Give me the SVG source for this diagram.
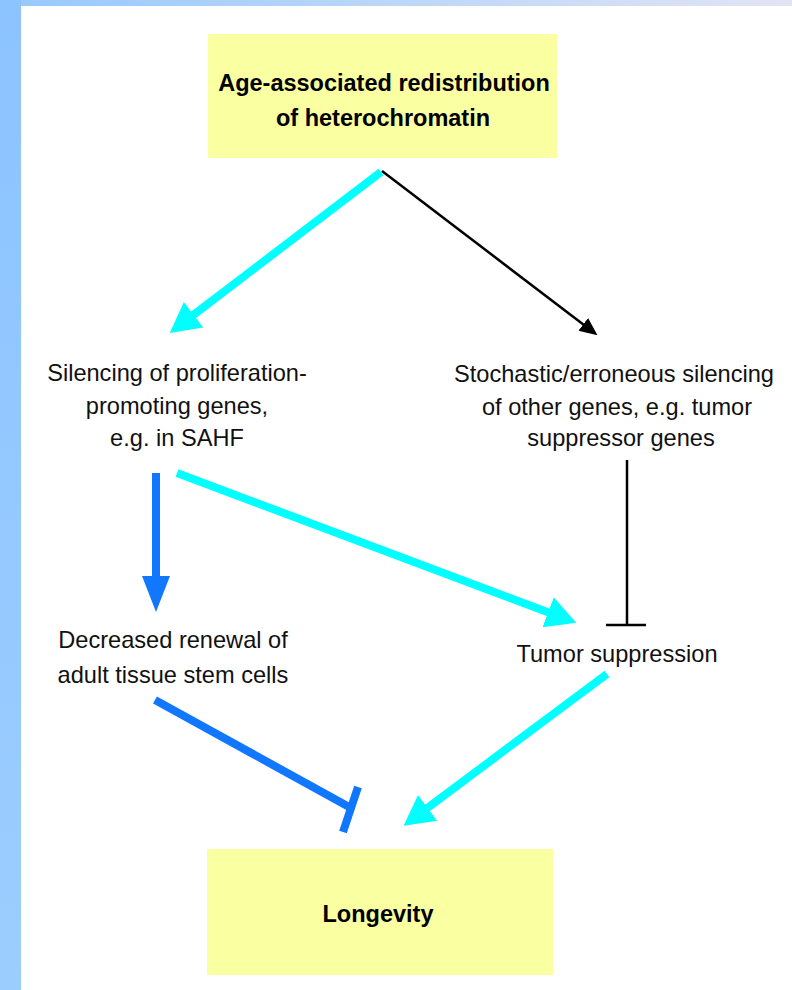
<svg xmlns="http://www.w3.org/2000/svg" width="792" height="990" viewBox="0 0 792 990">
  <defs>
    <linearGradient id="gLeft" x1="0" y1="0" x2="0" y2="1">
      <stop offset="0" stop-color="#8CC4FF"/>
      <stop offset="1" stop-color="#9CCDFF"/>
    </linearGradient>
    <linearGradient id="gTop" x1="0" y1="0" x2="1" y2="0">
      <stop offset="0" stop-color="#98CAFC"/>
      <stop offset="1" stop-color="#E2E4F4"/>
    </linearGradient>
    <marker id="headCyan" markerUnits="userSpaceOnUse" markerWidth="30" markerHeight="34" viewBox="0 0 30 34" refX="2" refY="17" orient="auto">
      <path d="M0,1 L30,17 L0,33 z" fill="#00FFFF"/>
    </marker>
    <marker id="headBlue" markerUnits="userSpaceOnUse" markerWidth="36" markerHeight="30" viewBox="0 0 36 30" refX="1" refY="15" orient="auto">
      <path d="M0,1 L36,15 L0,29 z" fill="#1177FF"/>
    </marker>
    <marker id="headBlack" markerUnits="userSpaceOnUse" markerWidth="18" markerHeight="18" viewBox="0 0 18 18" refX="1" refY="9" orient="auto">
      <path d="M0,1 L18,9 L0,17 z" fill="#000"/>
    </marker>
  </defs>
  <style>
    .box { fill: #FAFFA2; }
    .t { font-family: "Liberation Sans", Arial, sans-serif; font-size: 23.6px; fill: #111; text-anchor: middle; }
    .b { font-family: "Liberation Sans", Arial, sans-serif; font-size: 23.5px; font-weight: bold; fill: #000; text-anchor: middle; }
    .cyan { stroke: #00FFFF; stroke-width: 8; fill: none; }
    .blue { stroke: #1177FF; stroke-width: 8; fill: none; }
    .blk { stroke: #000; stroke-width: 2.5; fill: none; }
  </style>

  <rect x="0" y="0" width="792" height="990" fill="#FFFFFF"/>
  <rect x="0" y="0" width="21" height="990" fill="url(#gLeft)"/>
  <rect x="21" y="0" width="771" height="6" fill="url(#gTop)"/>

  <g id="connectors">
    <line class="cyan" x1="381" y1="172" x2="192" y2="316" marker-end="url(#headCyan)"/>
    <line class="blk" x1="382" y1="171" x2="584" y2="325" marker-end="url(#headBlack)"/>
    <line class="blue" x1="156" y1="473" x2="156" y2="577" marker-end="url(#headBlue)"/>
    <line class="cyan" x1="177" y1="473" x2="550" y2="613" marker-end="url(#headCyan)"/>
    <line class="blk" x1="627" y1="460" x2="627" y2="625"/>
    <line class="blk" x1="606" y1="625" x2="646" y2="625"/>
    <line class="blue" x1="155" y1="700" x2="351" y2="808"/>
    <line class="blue" x1="358" y1="787" x2="343" y2="832"/>
    <line class="cyan" x1="607" y1="674" x2="426" y2="809" marker-end="url(#headCyan)"/>
  </g>

  <g id="node-heterochromatin">
    <rect class="box" x="208" y="34" width="349" height="124"/>
    <text class="b" x="384" y="91">Age-associated redistribution</text>
    <text class="b" x="383" y="126">of heterochromatin</text>
  </g>

  <g id="node-silencing-proliferation">
    <text class="t" x="177" y="381">Silencing of proliferation-</text>
    <text class="t" x="177" y="414">promoting genes,</text>
    <text class="t" x="177" y="446">e.g. in SAHF</text>
  </g>

  <g id="node-stochastic-silencing">
    <text class="t" x="614" y="382">Stochastic/erroneous silencing</text>
    <text class="t" x="617" y="415">of other genes, e.g. tumor</text>
    <text class="t" x="621" y="446">suppressor genes</text>
  </g>

  <g id="node-stem-cells">
    <text class="t" x="173" y="648">Decreased renewal of</text>
    <text class="t" x="173" y="683">adult tissue stem cells</text>
  </g>

  <g id="node-tumor-suppression">
    <text class="t" x="617" y="662">Tumor suppression</text>
  </g>

  <g id="node-longevity">
    <rect class="box" x="207" y="849" width="346" height="126"/>
    <text class="b" x="378" y="922">Longevity</text>
  </g>
</svg>
